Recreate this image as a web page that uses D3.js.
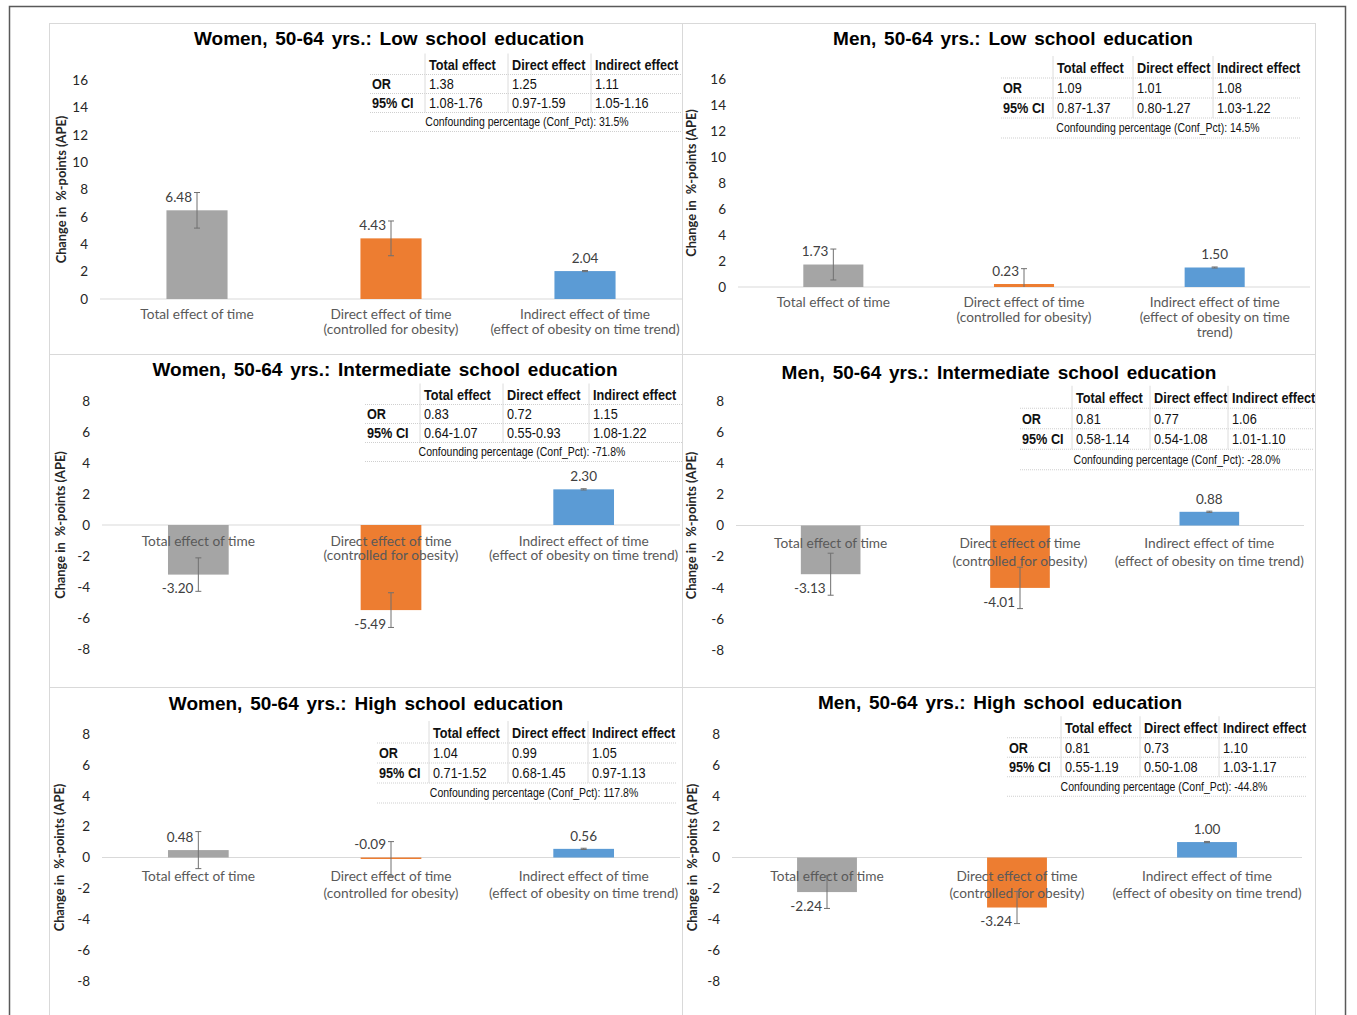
<!DOCTYPE html>
<html>
<head>
<meta charset="utf-8">
<script src="https://cdn.jsdelivr.net/npm/d3@7"></script>
<style>
  body { margin: 0; background: #fff; }
  .tbl { font-family: "Liberation Sans", Arial, sans-serif; }
  .lato { font-family: Lato, "Open Sans", sans-serif; }
</style>
</head>
<body>
<svg id="chart" width="1357" height="1015"></svg>
<script>
// ---- data ----
const titles = [
  "Women, 50-64 yrs.: Low school education",
  "Men, 50-64 yrs.: Low school education",
  "Women, 50-64 yrs.: Intermediate school education",
  "Men, 50-64 yrs.: Intermediate school education",
  "Women, 50-64 yrs.: High school education",
  "Men, 50-64 yrs.: High school education"
]
const categories = [
  ["Total effect of time"],
  ["Direct effect of time", "(controlled for obesity)"],
  ["Indirect effect of time", "(effect of obesity on time trend)"]
]
const categoriesWrapped = [
  ["Total effect of time"],
  ["Direct effect of time", "(controlled for obesity)"],
  ["Indirect effect of time", "(effect of obesity on time", "trend)"]
]
const apeValues = [
  [6.48, 4.43, 2.04],
  [1.73, 0.23, 1.50],
  [-3.20, -5.49, 2.30],
  [-3.13, -4.01, 0.88],
  [0.48, -0.09, 0.56],
  [-2.24, -3.24, 1.00]
]
// half width of the error bars (%-points)
const errMargins = [
  [1.30, 1.27, 0.04],
  [1.19, 1.18, 0.04],
  [1.08, 1.12, 0.04],
  [1.35, 1.33, 0.04],
  [1.20, 1.12, 0.04],
  [1.06, 1.04, 0.04]
]
const yDomains = [[0, 16], [0, 16], [-8, 8], [-8, 8], [-8, 8], [-8, 8]]
const ticksLow = [0, 2, 4, 6, 8, 10, 12, 14, 16]
const ticksOther = [-8, -6, -4, -2, 0, 2, 4, 6, 8]

const tableHeads = ["Total effect", "Direct effect", "Indirect effect"]
const orValues = [
  ["1.38", "1.25", "1.11"],
  ["1.09", "1.01", "1.08"],
  ["0.83", "0.72", "1.15"],
  ["0.81", "0.77", "1.06"],
  ["1.04", "0.99", "1.05"],
  ["0.81", "0.73", "1.10"]
]
const ciTexts = [
  ["1.08-1.76", "0.97-1.59", "1.05-1.16"],
  ["0.87-1.37", "0.80-1.27", "1.03-1.22"],
  ["0.64-1.07", "0.55-0.93", "1.08-1.22"],
  ["0.58-1.14", "0.54-1.08", "1.01-1.10"],
  ["0.71-1.52", "0.68-1.45", "0.97-1.13"],
  ["0.55-1.19", "0.50-1.08", "1.03-1.17"]
]
const confPct = ["31.5%", "14.5%", "-71.8%", "-28.0%", "117.8%", "-44.8%"]
const barColors = ["#a5a5a5", "#ed7d31", "#5b9bd5"]

// ---- layout of the six panels (pixels) ----
const layout = [
  {x: 49, y: 23, w: 633, h: 331, titleX: 389, titleY: 38, plotL: 100, plotR: 682, yTop: 80, yBot: 299, tickX: 88, axTitleX: 62,
   cols: [370, 425, 508, 591, 690], tblY: 65, rowH: 19, catDy: 15, catLh: 15, wrap: false},
  {x: 682, y: 23, w: 633, h: 331, titleX: 1013, titleY: 38, plotL: 738, plotR: 1310, yTop: 79, yBot: 287, tickX: 726, axTitleX: 692,
   cols: [1001, 1053, 1133, 1213, 1301], tblY: 68, rowH: 20, catDy: 15, catLh: 15, wrap: true},
  {x: 49, y: 354, w: 633, h: 333, titleX: 385, titleY: 369, plotL: 102, plotR: 680, yTop: 401, yBot: 649, tickX: 90, axTitleX: 61,
   cols: [365, 420, 503, 589, 690], tblY: 395, rowH: 19, catDy: 16, catLh: 14.5, wrap: false},
  {x: 682, y: 354, w: 633, h: 333, titleX: 999, titleY: 372, plotL: 736, plotR: 1304, yTop: 401, yBot: 650, tickX: 724, axTitleX: 692,
   cols: [1020, 1072, 1150, 1228, 1314], tblY: 398, rowH: 20.5, catDy: 18, catLh: 18, wrap: false},
  {x: 49, y: 687, w: 633, h: 340, titleX: 366, titleY: 703, plotL: 102, plotR: 680, yTop: 734, yBot: 981, tickX: 90, axTitleX: 60,
   cols: [377, 429, 508, 588, 677], tblY: 733, rowH: 20, catDy: 19, catLh: 17, wrap: false},
  {x: 682, y: 687, w: 633, h: 340, titleX: 1000, titleY: 702, plotL: 732, plotR: 1302, yTop: 734, yBot: 981, tickX: 720, axTitleX: 693,
   cols: [1007, 1061, 1140, 1219, 1306], tblY: 728, rowH: 19.5, catDy: 19, catLh: 17, wrap: false}
]

const fmt = d3.formatLocale({decimal: ".", thousands: ",", grouping: [3], currency: ["", ""], minus: "-"})
const f2 = fmt.format(".2f")
const f0 = fmt.format("d")

const svg = d3.select("#chart")

// narrow text: Arial Narrow is Arial squeezed to about 82 %
function narrowText(sel, x, y, txt, size, bold, anchor) {
  return sel.append("text")
    .attr("transform", "translate(" + x + "," + y + ") scale(0.82,1)")
    .attr("dy", "0.35em")
    .attr("text-anchor", anchor || "start")
    .style("font-size", size + "px")
    .style("font-weight", bold ? "bold" : "normal")
    .attr("fill", "#111")
    .text(txt)
}

// outer frame
svg.append("rect")
  .attr("x", 9.5).attr("y", 6.5).attr("width", 1336).attr("height", 1020)
  .attr("fill", "none").attr("stroke", "#595959").attr("stroke-width", 1.5)

const defs = svg.append("defs")

layout.forEach((L, p) => {
  defs.append("clipPath").attr("id", "clip" + p)
    .append("rect").attr("x", L.x).attr("y", L.y).attr("width", L.w).attr("height", L.h)

  // panel border
  svg.append("rect")
    .attr("x", L.x + 0.5).attr("y", L.y + 0.5).attr("width", L.w).attr("height", L.h)
    .attr("fill", "none").attr("stroke", "#d9d9d9")

  const g = svg.append("g").attr("clip-path", "url(#clip" + p + ")")

  const y = d3.scaleLinear().domain(yDomains[p]).range([L.yBot, L.yTop])
  const x = d3.scaleBand().domain([0, 1, 2]).range([L.plotL, L.plotR]).padding(0)
  const bw = x.bandwidth() * 0.315
  const cx = i => x(i) + x.bandwidth() / 2

  // title
  g.append("text")
    .attr("x", L.titleX).attr("y", L.titleY).attr("dy", "0.35em")
    .attr("text-anchor", "middle")
    .style("font-family", "'Liberation Sans', Arial, sans-serif")
    .style("font-weight", "bold").style("font-size", "19px")
    .style("word-spacing", "2.5px")
    .attr("fill", "#000")
    .text(titles[p])

  // y axis
  const axis = d3.axisLeft(y)
    .tickValues(p < 2 ? ticksLow : ticksOther)
    .tickSize(0).tickPadding(0)
    .tickFormat(f0)
  const ax = g.append("g").attr("transform", "translate(" + L.tickX + ",0)").call(axis)
  ax.select(".domain").remove()
  ax.selectAll("text")
    .attr("class", "lato")
    .style("font-size", "13.5px").attr("fill", "#262626")

  g.append("text")
    .attr("class", "lato")
    .attr("transform", "translate(" + L.axTitleX + "," + ((L.yTop + L.yBot) / 2) + ") rotate(-90)")
    .attr("dy", "0.35em")
    .attr("text-anchor", "middle")
    .style("font-size", "12.8px").style("font-weight", "bold")
    .attr("fill", "#262626")
    .style("white-space", "pre")
    .text("Change in  %-points (APE)")

  // zero line
  g.append("line")
    .attr("x1", L.plotL).attr("x2", L.plotR)
    .attr("y1", y(0)).attr("y2", y(0))
    .attr("stroke", "#d9d9d9").attr("stroke-width", 1)

  const vals = apeValues[p]

  // bars
  g.selectAll(".bar").data(vals).enter().append("rect")
    .attr("class", "bar")
    .attr("x", (d, i) => cx(i) - bw / 2)
    .attr("width", bw)
    .attr("y", d => y(Math.max(d, 0)))
    .attr("height", d => Math.max(Math.abs(y(d) - y(0)), 1.5))
    .attr("fill", (d, i) => barColors[i])

  // category labels
  const cats = L.wrap ? categoriesWrapped : categories
  cats.forEach((lines, i) => {
    const t = g.append("text")
      .attr("class", "lato")
      .attr("text-anchor", "middle")
      .style("font-size", "13.7px").attr("fill", "#595959")
    lines.forEach((ln, k) => {
      t.append("tspan")
        .attr("x", cx(i))
        .attr("y", y(0) + L.catDy + k * L.catLh)
        .attr("dy", "0.35em")
        .text(ln)
    })
  })

  // error bars (clipped to the axis range like in the spreadsheet chart)
  const [lo, hi] = yDomains[p]
  vals.forEach((v, i) => {
    const m = errMargins[p][i]
    const a = Math.max(v - m, lo), b = Math.min(v + m, hi)
    const eg = g.append("g").attr("stroke", "#707070").attr("stroke-width", 1)
    eg.append("line").attr("x1", cx(i)).attr("x2", cx(i)).attr("y1", y(a)).attr("y2", y(b))
    if (v + m <= hi) eg.append("line").attr("x1", cx(i) - 3).attr("x2", cx(i) + 3).attr("y1", y(v + m)).attr("y2", y(v + m))
    if (v - m >= lo) eg.append("line").attr("x1", cx(i) - 3).attr("x2", cx(i) + 3).attr("y1", y(v - m)).attr("y2", y(v - m))
  })

  // data labels
  g.selectAll(".dlabel").data(vals).enter().append("text")
    .attr("class", "lato")
    .attr("x", (d, i) => i < 2 ? cx(i) - 5 : cx(i))
    .attr("y", d => d > -0.5 ? y(Math.max(d, 0)) - 13 : y(d) + 14)
    .attr("dy", "0.35em")
    .attr("text-anchor", (d, i) => i < 2 ? "end" : "middle")
    .style("font-size", "13.5px").attr("fill", "#404040")
    .text(d => f2(d))

  // OR table
  const c = L.cols
  const rows = [L.tblY, L.tblY + L.rowH, L.tblY + 2 * L.rowH]
  const tg = g.append("g").attr("class", "tbl")
  tableHeads.forEach((h, j) => {
    narrowText(tg, c[j + 1] + 4, rows[0], h, 15.5, true)
    narrowText(tg, c[j + 1] + 4, rows[1], orValues[p][j], 15.5, false)
    narrowText(tg, c[j + 1] + 4, rows[2], ciTexts[p][j], 15.5, false)
  })
  narrowText(tg, c[0] + 2, rows[1], "OR", 15.5, true)
  narrowText(tg, c[0] + 2, rows[2], "95% CI", 15.5, true)
  narrowText(tg, c[0] + 157, rows[2] + L.rowH, "Confounding percentage (Conf_Pct): " + confPct[p], 12.8, false, "middle")

  // table rules
  const half = L.rowH / 2
  ;[rows[0] + half, rows[1] + half, rows[2] + half, rows[2] + L.rowH + half].forEach(yy => {
    tg.append("line").attr("x1", c[0]).attr("x2", c[4]).attr("y1", yy).attr("y2", yy)
      .attr("stroke", "#cfcfcf").attr("stroke-dasharray", "1,1")
  })
  ;[c[1], c[2], c[3]].forEach(xx => {
    tg.append("line").attr("x1", xx).attr("x2", xx).attr("y1", rows[0] - half - 2).attr("y2", rows[2] + half)
      .attr("stroke", "#dcdcdc")
  })
})
</script>
</body>
</html>
